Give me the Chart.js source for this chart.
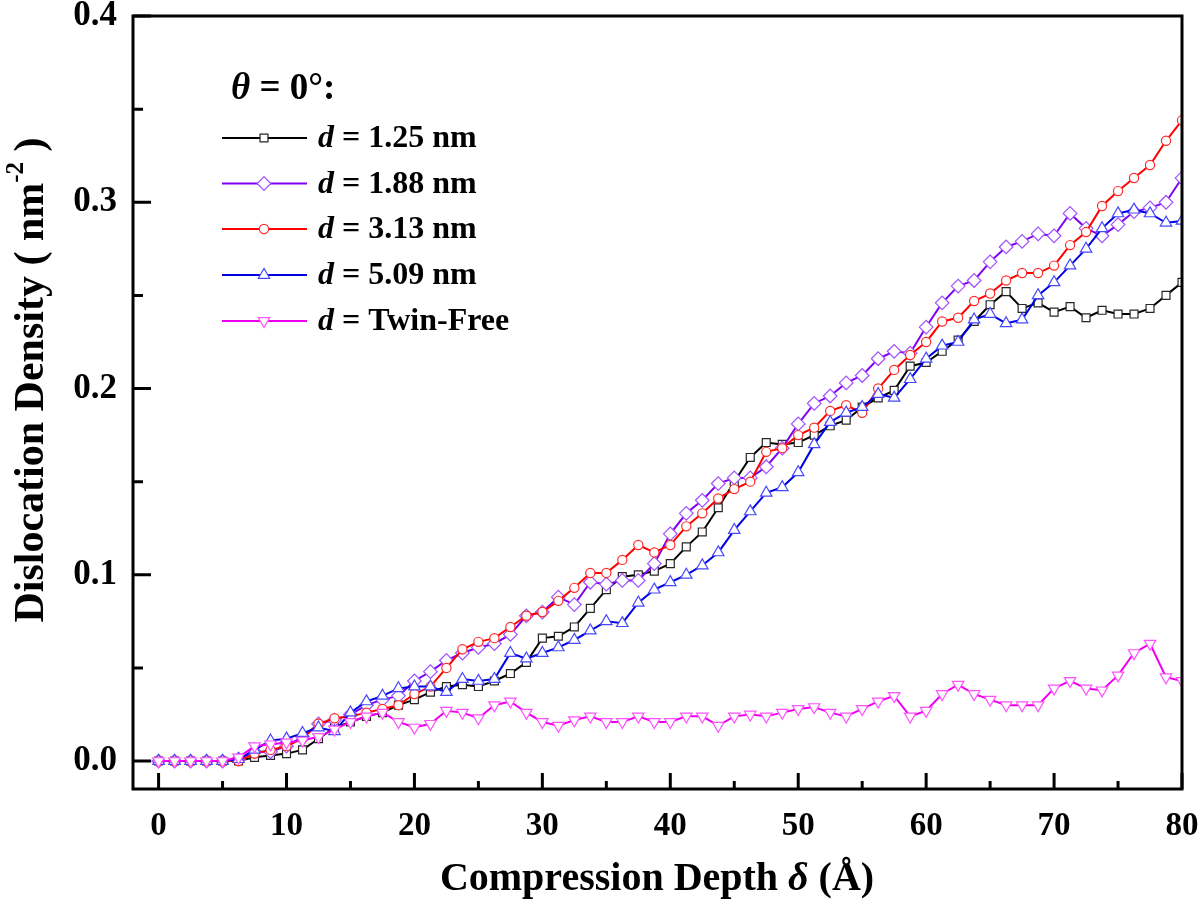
<!DOCTYPE html>
<html><head><meta charset="utf-8">
<script src="https://cdn.jsdelivr.net/npm/chart.js@4.4.1/dist/chart.umd.min.js"></script>
<style>html,body{margin:0;padding:0;background:#fff}#wrap{width:1200px;height:903px}</style>
</head><body><div id="wrap"><canvas id="c" width="1200" height="903"></canvas></div>
<script>
// ---- data ----
const depth = [0,1.25,2.5,3.75,5,6.25,7.5,8.75,10,11.25,12.5,13.75,15,16.25,17.5,18.75,20,21.25,22.5,23.75,25,26.25,27.5,28.75,30,31.25,32.5,33.75,35,36.25,37.5,38.75,40,41.25,42.5,43.75,45,46.25,47.5,48.75,50,51.25,52.5,53.75,55,56.25,57.5,58.75,60,61.25,62.5,63.75,65,66.25,67.5,68.75,70,71.25,72.5,73.75,75,76.25,77.5,78.75,80];
const d125 = [0,0,0,0,0,0,0.002,0.003,0.004,0.006,0.012,0.018,0.021,0.024,0.026,0.030,0.033,0.037,0.040,0.041,0.040,0.043,0.047,0.053,0.066,0.067,0.072,0.082,0.092,0.099,0.100,0.102,0.106,0.115,0.123,0.136,0.150,0.163,0.171,0.170,0.171,0.175,0.180,0.183,0.190,0.195,0.199,0.212,0.214,0.220,0.226,0.236,0.245,0.252,0.243,0.246,0.241,0.244,0.238,0.242,0.240,0.240,0.243,0.250,0.257];
const d188 = [0,0,0,0,0,0.001,0.005,0.005,0.008,0.013,0.020,0.022,0.025,0.030,0.033,0.035,0.043,0.048,0.054,0.058,0.061,0.063,0.068,0.078,0.080,0.088,0.084,0.096,0.095,0.097,0.097,0.106,0.122,0.133,0.140,0.149,0.152,0.152,0.158,0.168,0.181,0.192,0.196,0.203,0.207,0.216,0.220,0.219,0.233,0.246,0.255,0.258,0.268,0.276,0.279,0.283,0.282,0.294,0.286,0.282,0.288,0.295,0.297,0.300,0.313];
const d313 = [0,0,0,0,0,0,0.004,0.006,0.008,0.012,0.020,0.023,0.024,0.026,0.028,0.030,0.036,0.040,0.050,0.060,0.064,0.066,0.072,0.078,0.080,0.086,0.093,0.101,0.101,0.108,0.116,0.112,0.116,0.126,0.133,0.141,0.146,0.150,0.166,0.168,0.175,0.179,0.188,0.191,0.187,0.200,0.210,0.218,0.225,0.236,0.238,0.247,0.251,0.258,0.262,0.262,0.266,0.277,0.284,0.298,0.306,0.313,0.320,0.333,0.344];
const d509 = [0,0,0,0,0,0.001,0.006,0.011,0.012,0.015,0.018,0.016,0.026,0.032,0.035,0.039,0.040,0.040,0.037,0.044,0.043,0.044,0.058,0.055,0.058,0.061,0.065,0.070,0.075,0.074,0.085,0.092,0.096,0.100,0.105,0.112,0.124,0.134,0.144,0.147,0.155,0.170,0.182,0.187,0.190,0.197,0.195,0.205,0.216,0.223,0.225,0.237,0.240,0.235,0.237,0.250,0.257,0.266,0.275,0.286,0.294,0.296,0.294,0.289,0.290];
const twinFree = [0,0,0,0,0,0.002,0.008,0.009,0.010,0.011,0.013,0.017,0.021,0.024,0.026,0.021,0.018,0.020,0.027,0.026,0.023,0.030,0.032,0.026,0.021,0.019,0.022,0.024,0.021,0.021,0.024,0.021,0.021,0.024,0.024,0.019,0.024,0.025,0.024,0.026,0.028,0.029,0.026,0.024,0.028,0.032,0.035,0.024,0.027,0.036,0.041,0.036,0.033,0.030,0.030,0.030,0.039,0.043,0.039,0.038,0.046,0.058,0.063,0.045,0.043];
const seriesLabels = ['1.25 nm','1.88 nm','3.13 nm','5.09 nm','Twin-Free'];
const xTicks = [0,10,20,30,40,50,60,70,80];
const xMinorTicks = [5,15,25,35,45,55,65,75];
const yTicks = [0,0.1,0.2,0.3,0.4];
const yMinorTicks = [0.05,0.15,0.25,0.35];

// ---- styles ----
const SERIF = '"Liberation Serif","Times New Roman",serif';
const styles = [
  {line:'#000000', mark:'#262626', shape:'rect',    r:5.6, rot:0},
  {line:'#8000F0', mark:'#A050FF', shape:'rectRot', r:6.8, rot:0},
  {line:'#FF0000', mark:'#FF2A2A', shape:'circle',  r:4.6, rot:0},
  {line:'#0000E0', mark:'#4848FF', shape:'triangle',r:6.6, rot:0},
  {line:'#EE00EE', mark:'#FF50FF', shape:'triangle',r:6.6, rot:180}
];
const allSeries = [d125,d188,d313,d509,twinFree];

const datasets = allSeries.map((arr,i)=>({
  label: seriesLabels[i],
  data: depth.map((x,k)=>({x:x, y:arr[k]})),
  showLine:true,
  borderColor: styles[i].line,
  borderWidth: 2,
  tension: 0,
  pointStyle: styles[i].shape,
  pointRotation: styles[i].rot,
  pointRadius: styles[i].r,
  pointBorderWidth: 1.2,
  pointBorderColor: styles[i].mark,
  pointBackgroundColor: '#ffffff',
  order: 5 - i
}));

function marker(ctx, st, x, y){
  ctx.save();
  ctx.strokeStyle = st.mark; ctx.fillStyle='#fff'; ctx.lineWidth=1.2;
  ctx.beginPath();
  const r = st.r;
  if(st.shape==='rect'){ const s=r*Math.SQRT1_2; ctx.rect(x-s,y-s,2*s,2*s); }
  else if(st.shape==='rectRot'){ ctx.moveTo(x,y-r); ctx.lineTo(x+r,y); ctx.lineTo(x,y+r); ctx.lineTo(x-r,y); ctx.closePath(); }
  else if(st.shape==='circle'){ ctx.arc(x,y,r,0,Math.PI*2); }
  else { const sgn = st.rot===180?-1:1; const h=r*Math.cos(Math.PI/3), w=r*Math.sin(Math.PI/3);
    ctx.moveTo(x,y-sgn*r); ctx.lineTo(x+w,y+sgn*h); ctx.lineTo(x-w,y+sgn*h); ctx.closePath(); }
  ctx.fill(); ctx.stroke(); ctx.restore();
}
function runsWidth(ctx, runs){ let w=0; runs.forEach(r=>{ctx.font=r.font; w+=ctx.measureText(r.t).width;}); return w; }
function drawRuns(ctx, runs, x, y){ let cx=x; runs.forEach(r=>{ctx.font=r.font; ctx.fillText(r.t,cx,y+(r.dy||0)); cx+=ctx.measureText(r.t).width;}); }

const decor = {
  id:'decor',
  afterDatasetsDraw(chart){
    const {ctx, chartArea:a, scales:{x,y}} = chart;
    ctx.save();
    ctx.strokeStyle='#000'; ctx.lineWidth=3;
    ctx.strokeRect(a.left, a.top, a.right-a.left, a.bottom-a.top);
    ctx.beginPath();
    xTicks.forEach(v=>{const p=x.getPixelForValue(v); ctx.moveTo(p,a.bottom); ctx.lineTo(p,a.bottom-16);});
    xMinorTicks.forEach(v=>{const p=x.getPixelForValue(v); ctx.moveTo(p,a.bottom); ctx.lineTo(p,a.bottom-8);});
    yTicks.forEach(v=>{const p=y.getPixelForValue(v); ctx.moveTo(a.left,p); ctx.lineTo(a.left+18,p);});
    yMinorTicks.forEach(v=>{const p=y.getPixelForValue(v); ctx.moveTo(a.left,p); ctx.lineTo(a.left+10,p);});
    ctx.stroke();
    ctx.restore();
  },
  afterDraw(chart){
    const ctx = chart.ctx;
    ctx.save();
    ctx.fillStyle='#000'; ctx.textBaseline='middle';
    // legend header
    drawRuns(ctx,[{t:'\u03B8',font:'italic bold 37px '+SERIF},{t:' = 0\u00B0:',font:'bold 37px '+SERIF}],231,89);
    // legend rows
    const rowY = [138,183.5,229,275,321];
    styles.forEach((st,i)=>{
      const yy=rowY[i];
      ctx.strokeStyle=st.line; ctx.lineWidth=2;
      ctx.beginPath(); ctx.moveTo(222,yy); ctx.lineTo(307,yy); ctx.stroke();
      marker(ctx,st,264,yy);
      ctx.fillStyle='#000';
      drawRuns(ctx,[{t:'d',font:'italic bold 32px '+SERIF},{t:' = '+seriesLabels[i],font:'bold 32px '+SERIF}],318,yy+1);
    });
    // x title
    const xr=[{t:'Compression Depth ',font:'bold 40px '+SERIF},{t:'\u03B4',font:'italic bold 40px '+SERIF},{t:' (\u00C5)',font:'bold 40px '+SERIF}];
    const xw=runsWidth(ctx,xr);
    drawRuns(ctx,xr,657-xw/2,880);
    // y title
    ctx.save();
    ctx.translate(32,380); ctx.rotate(-Math.PI/2);
    const yr=[{t:'Dislocation Density ( nm',font:'bold 42px '+SERIF},{t:'-2',font:'bold 25px '+SERIF,dy:-15},{t:' )',font:'bold 42px '+SERIF}];
    const yw=runsWidth(ctx,yr);
    drawRuns(ctx,yr,-yw/2,0);
    ctx.restore();
    ctx.restore();
  }
};

new Chart(document.getElementById('c'),{
  type:'scatter',
  data:{datasets},
  options:{
    responsive:false, animation:false, devicePixelRatio:1,
    layout:{padding:{top:16,right:18,left:0,bottom:0}},
    plugins:{legend:{display:false},tooltip:{enabled:false}},
    scales:{
      x:{type:'linear',min:-2,max:80,
        afterBuildTicks:s=>{s.ticks=xTicks.map(v=>({value:v}));},
        afterFit:s=>{s.height=114;s.paddingLeft=0;s.paddingRight=0;s.paddingTop=0;s.paddingBottom=0;},
        border:{display:false},grid:{display:false,drawTicks:false},
        ticks:{color:'#000',font:{family:SERIF,weight:'bold',size:33},padding:18,maxRotation:0,autoSkip:false,callback:v=>String(v)}},
      y:{type:'linear',min:-0.015,max:0.4,
        afterBuildTicks:s=>{s.ticks=yTicks.map(v=>({value:v}));},
        afterFit:s=>{s.width=133;s.paddingLeft=0;s.paddingRight=0;s.paddingTop=0;s.paddingBottom=0;},
        border:{display:false},grid:{display:false,drawTicks:false},
        ticks:{color:'#000',font:{family:SERIF,weight:'bold',size:35},padding:16,autoSkip:false,callback:v=>Number(v).toFixed(1)}}
    }
  },
  plugins:[decor]
});
</script></body></html>
